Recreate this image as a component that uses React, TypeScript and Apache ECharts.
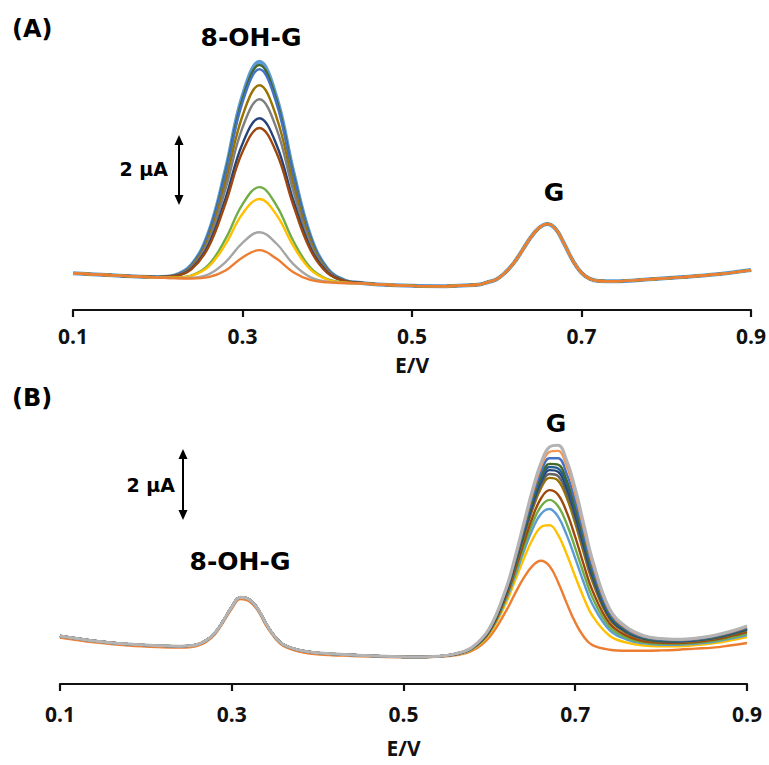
import React, { useEffect, useRef } from "react";
import * as echarts from "echarts";

// ---------- Panel (A): potentials (V) and currents (µA, arbitrary offset) ----------
const E_A_LEFT = [0.1, 0.14, 0.18];
const I_A_LEFT = [1.14, 1.09, 1.04];

const E_A_OXO = [0.2, 0.22, 0.24, 0.26, 0.28, 0.3, 0.32, 0.34, 0.36, 0.38, 0.4, 0.42, 0.44];
const I_A_OXO_1 = [1.03, 1.08, 1.38, 2.29, 4.08, 6.2, 7.18, 6.17, 4.03, 2.21, 1.27, 0.94, 0.86];
const I_A_OXO_2 = [1.03, 1.08, 1.37, 2.27, 4.04, 6.12, 7.09, 6.1, 3.98, 2.19, 1.26, 0.94, 0.86];
const I_A_OXO_3 = [1.03, 1.08, 1.37, 2.25, 3.98, 6.02, 6.97, 6.0, 3.92, 2.16, 1.26, 0.94, 0.86];
const I_A_OXO_4 = [1.03, 1.07, 1.34, 2.15, 3.75, 5.64, 6.51, 5.61, 3.69, 2.07, 1.23, 0.93, 0.86];
const I_A_OXO_5 = [1.03, 1.07, 1.31, 2.07, 3.55, 5.3, 6.11, 5.28, 3.49, 1.98, 1.2, 0.93, 0.86];
const I_A_OXO_6 = [1.03, 1.06, 1.28, 1.95, 3.28, 4.84, 5.57, 4.82, 3.22, 1.87, 1.17, 0.92, 0.86];
const I_A_OXO_7 = [1.03, 1.06, 1.26, 1.89, 3.14, 4.61, 5.29, 4.59, 3.08, 1.81, 1.15, 0.92, 0.86];
const I_A_OXO_8 = [1.02, 1.02, 1.08, 1.38, 2.12, 3.11, 3.6, 3.08, 2.06, 1.3, 0.97, 0.88, 0.85];
const I_A_OXO_9 = [1.02, 1.01, 1.07, 1.33, 1.97, 2.84, 3.26, 2.81, 1.92, 1.25, 0.96, 0.87, 0.85];
const I_A_OXO_10 = [1.02, 1.0, 1.01, 1.11, 1.46, 2.01, 2.31, 1.99, 1.4, 1.03, 0.9, 0.86, 0.85];
const I_A_OXO_11 = [1.02, 1.0, 0.99, 1.03, 1.22, 1.59, 1.8, 1.56, 1.17, 0.95, 0.88, 0.86, 0.85];

const E_A_TAIL = [0.46, 0.5, 0.54, 0.56, 0.58, 0.59, 0.6, 0.61, 0.62, 0.63, 0.64, 0.65, 0.66, 0.67, 0.68, 0.69, 0.7, 0.71, 0.72, 0.74, 0.78, 0.82, 0.86, 0.9];
const I_A_TAIL = [0.82, 0.78, 0.77, 0.79, 0.82, 0.89, 0.97, 1.16, 1.43, 1.79, 2.16, 2.44, 2.55, 2.39, 1.96, 1.49, 1.15, 0.98, 0.92, 0.91, 0.97, 1.03, 1.11, 1.23];

const COLORS_A = ["#5B9BD5", "#43682B", "#4472C4", "#997300", "#7F7F7F", "#264478", "#9E480E", "#70AD47", "#FFC000", "#A5A5A5", "#ED7D31"];
const WIDTHS_A = [4, 2.4, 2.4, 2.4, 2.4, 2.4, 2.4, 2.4, 2.4, 2.4, 2.4];
const PEAKS_A = [I_A_OXO_1, I_A_OXO_2, I_A_OXO_3, I_A_OXO_4, I_A_OXO_5, I_A_OXO_6, I_A_OXO_7, I_A_OXO_8, I_A_OXO_9, I_A_OXO_10, I_A_OXO_11];

// ---------- Panel (B) ----------
const E_B_LEFT = [0.1, 0.14, 0.18, 0.22, 0.24, 0.25, 0.26, 0.27, 0.28, 0.29, 0.3, 0.31, 0.32, 0.33, 0.34, 0.35, 0.36, 0.38, 0.4, 0.44, 0.48, 0.52];
const I_B_LEFT = [1.37, 1.23, 1.14, 1.09, 1.08, 1.09, 1.13, 1.24, 1.45, 1.8, 2.2, 2.48, 2.42, 2.16, 1.72, 1.36, 1.13, 0.96, 0.89, 0.83, 0.79, 0.77];
const I_B_LEFT_LOW = [1.33, 1.19, 1.1, 1.05, 1.04, 1.05, 1.09, 1.2, 1.41, 1.76, 2.15, 2.43, 2.37, 2.11, 1.67, 1.32, 1.09, 0.92, 0.85, 0.8, 0.77, 0.76];

const E_B_G = [0.54, 0.56, 0.58, 0.6, 0.62, 0.63, 0.64, 0.65, 0.66, 0.67, 0.68, 0.69, 0.7, 0.71, 0.72, 0.74, 0.76, 0.78, 0.8, 0.82, 0.84, 0.86, 0.88, 0.9];
const I_B_G_1 = [0.78, 0.82, 0.95, 1.34, 2.11, 2.59, 3.03, 3.37, 3.52, 3.37, 2.91, 2.31, 1.76, 1.35, 1.11, 0.98, 0.95, 0.95, 0.96, 0.98, 1.01, 1.04, 1.1, 1.17];
const I_B_G_2 = [0.79, 0.84, 0.99, 1.43, 2.35, 2.96, 3.57, 4.12, 4.48, 4.54, 4.26, 3.71, 3.07, 2.46, 1.95, 1.38, 1.18, 1.1, 1.08, 1.08, 1.11, 1.16, 1.24, 1.34];
const I_B_G_3 = [0.79, 0.84, 1.0, 1.47, 2.44, 3.1, 3.78, 4.41, 4.86, 5.0, 4.78, 4.26, 3.59, 2.89, 2.28, 1.54, 1.27, 1.16, 1.12, 1.12, 1.15, 1.2, 1.29, 1.4];
const I_B_G_4 = [0.79, 0.85, 1.01, 1.48, 2.49, 3.18, 3.9, 4.58, 5.07, 5.26, 5.08, 4.58, 3.88, 3.14, 2.47, 1.63, 1.32, 1.19, 1.15, 1.15, 1.18, 1.23, 1.32, 1.44];
const I_B_G_5 = [0.79, 0.85, 1.02, 1.5, 2.54, 3.26, 4.03, 4.75, 5.3, 5.54, 5.41, 4.91, 4.2, 3.4, 2.67, 1.73, 1.38, 1.22, 1.18, 1.17, 1.2, 1.26, 1.36, 1.48];
const I_B_G_6 = [0.79, 0.85, 1.03, 1.53, 2.61, 3.37, 4.19, 4.97, 5.59, 5.89, 5.81, 5.33, 4.59, 3.74, 2.93, 1.85, 1.45, 1.27, 1.21, 1.2, 1.23, 1.29, 1.4, 1.53];
const I_B_G_7 = [0.79, 0.85, 1.03, 1.54, 2.63, 3.41, 4.24, 5.04, 5.68, 6.0, 5.94, 5.47, 4.72, 3.84, 3.01, 1.89, 1.47, 1.28, 1.22, 1.21, 1.24, 1.3, 1.41, 1.55];
const I_B_G_8 = [0.79, 0.85, 1.03, 1.54, 2.65, 3.44, 4.29, 5.11, 5.77, 6.11, 6.06, 5.6, 4.84, 3.95, 3.09, 1.92, 1.49, 1.3, 1.23, 1.22, 1.25, 1.31, 1.42, 1.56];
const I_B_G_9 = [0.79, 0.86, 1.04, 1.55, 2.67, 3.47, 4.33, 5.17, 5.84, 6.2, 6.16, 5.71, 4.94, 4.03, 3.15, 1.95, 1.51, 1.31, 1.24, 1.23, 1.26, 1.32, 1.43, 1.58];
const I_B_G_10 = [0.79, 0.86, 1.04, 1.56, 2.69, 3.49, 4.37, 5.23, 5.92, 6.29, 6.27, 5.82, 5.04, 4.12, 3.22, 1.99, 1.53, 1.32, 1.25, 1.24, 1.27, 1.33, 1.44, 1.59];
const I_B_G_11 = [0.79, 0.86, 1.04, 1.57, 2.72, 3.54, 4.44, 5.33, 6.05, 6.45, 6.45, 6.01, 5.22, 4.27, 3.33, 2.04, 1.56, 1.34, 1.27, 1.25, 1.28, 1.35, 1.46, 1.61];
const I_B_G_12 = [0.79, 0.86, 1.05, 1.58, 2.75, 3.6, 4.53, 5.44, 6.2, 6.63, 6.66, 6.23, 5.43, 4.44, 3.46, 2.1, 1.59, 1.36, 1.29, 1.27, 1.3, 1.37, 1.48, 1.64];
const I_B_G_13 = [0.79, 0.86, 1.05, 1.59, 2.78, 3.64, 4.59, 5.53, 6.31, 6.77, 6.82, 6.39, 5.58, 4.57, 3.56, 2.15, 1.62, 1.38, 1.3, 1.28, 1.31, 1.38, 1.5, 1.66];

const COLORS_B = ["#ED7D31", "#FFC000", "#5B9BD5", "#70AD47", "#9E480E", "#997300", "#636363", "#264478", "#255E91", "#43682B", "#4472C4", "#F1975A", "#B4B4B4"];
const WIDTHS_B = [2.4, 2.4, 2.4, 2.4, 2.4, 2.4, 2.4, 2.4, 2.4, 2.4, 2.4, 2.4, 3];
const PEAKS_B = [I_B_G_1, I_B_G_2, I_B_G_3, I_B_G_4, I_B_G_5, I_B_G_6, I_B_G_7, I_B_G_8, I_B_G_9, I_B_G_10, I_B_G_11, I_B_G_12, I_B_G_13];

const X_TICKS = [0.1, 0.3, 0.5, 0.7, 0.9];

const pairs = (es: number[], is: number[]) => es.map((e, k) => [e, is[k]]);

function xAxisFor(gridIndex: number, labelMargin: number, nameGap: number) {
  return {
    gridIndex,
    type: "value",
    min: 0.1,
    max: 0.9,
    name: "E/V",
    nameLocation: "middle",
    nameGap,
    nameTextStyle: { fontFamily: "Open Sans", fontWeight: "bold", fontSize: 21, color: "#111" },
    axisLine: { show: true, onZero: false, lineStyle: { color: "#111", width: 2.2 } },
    axisTick: { show: true, inside: false, length: 7, customValues: X_TICKS, lineStyle: { color: "#111", width: 2.2 } },
    axisLabel: {
      customValues: X_TICKS,
      margin: labelMargin,
      formatter: (v: number) => v.toFixed(1),
      fontFamily: "Open Sans",
      fontWeight: "bold",
      fontSize: 21,
      color: "#111",
    },
    splitLine: { show: false },
  };
}

function arrow(x: number, top: number, bottom: number) {
  return [
    { type: "line", shape: { x1: x, y1: top + 8, x2: x, y2: bottom - 8 }, style: { stroke: "#000", lineWidth: 2 } },
    { type: "polygon", shape: { points: [[x, top], [x - 4.5, top + 10], [x + 4.5, top + 10]] }, style: { fill: "#000" } },
    { type: "polygon", shape: { points: [[x, bottom], [x - 4.5, bottom - 10], [x + 4.5, bottom - 10]] }, style: { fill: "#000" } },
  ];
}

function label(text: string, x: number, y: number, size: number, align: string) {
  return {
    type: "text",
    x,
    y,
    style: {
      text,
      fill: "#000",
      fontFamily: "DejaVu Sans",
      fontWeight: "bold",
      fontSize: size,
      align,
      verticalAlign: "middle",
    },
  };
}

export default function App() {
  const ref = useRef<HTMLDivElement>(null);
  useEffect(() => {
    if (!ref.current) return;
    const chart = echarts.init(ref.current, null, { renderer: "svg" });

    const seriesA = PEAKS_A.map((peak, k) => ({
      name: "A" + (k + 1),
      type: "line",
      xAxisIndex: 0,
      yAxisIndex: 0,
      showSymbol: false,
      symbol: "none",
      smooth: 0.4,
      lineStyle: { color: COLORS_A[k], width: WIDTHS_A[k] },
      data: [...pairs(E_A_LEFT, I_A_LEFT), ...pairs(E_A_OXO, peak), ...pairs(E_A_TAIL, I_A_TAIL)],
    }));
    const seriesB = PEAKS_B.map((peak, k) => ({
      name: "B" + (k + 1),
      type: "line",
      xAxisIndex: 1,
      yAxisIndex: 1,
      showSymbol: false,
      symbol: "none",
      smooth: 0.4,
      lineStyle: { color: COLORS_B[k], width: WIDTHS_B[k] },
      data: [...pairs(E_B_LEFT, k === 0 ? I_B_LEFT_LOW : I_B_LEFT), ...pairs(E_B_G, peak)],
    }));

    chart.setOption({
      animation: false,
      backgroundColor: "#fff",
      grid: [
        { left: 73, top: 37, width: 678, height: 273 },
        { left: 60, top: 411, width: 687, height: 273 },
      ],
      xAxis: [xAxisFor(0, 15, 44), xAxisFor(1, 19, 53)],
      yAxis: [
        { gridIndex: 0, type: "value", min: 0.09, max: 7.89, show: false },
        { gridIndex: 1, type: "value", min: 0, max: 7.8, show: false },
      ],
      series: [...seriesA, ...seriesB],
      graphic: [
        label("(A)", 12, 29, 24, "left"),
        label("8-OH-G", 251, 37, 25, "center"),
        label("G", 554, 192, 25, "center"),
        label("2 µA", 168, 169, 19, "right"),
        ...arrow(179, 135, 205),
        label("(B)", 12, 398, 24, "left"),
        label("8-OH-G", 240, 561, 25, "center"),
        label("G", 556, 423, 25, "center"),
        label("2 µA", 175, 485, 19, "right"),
        ...arrow(183, 449, 520),
      ],
    });
    return () => chart.dispose();
  }, []);
  return <div ref={ref} style={{ position: "fixed", left: 0, top: 0, width: 769, height: 765, background: "#fff" }} />;
}
